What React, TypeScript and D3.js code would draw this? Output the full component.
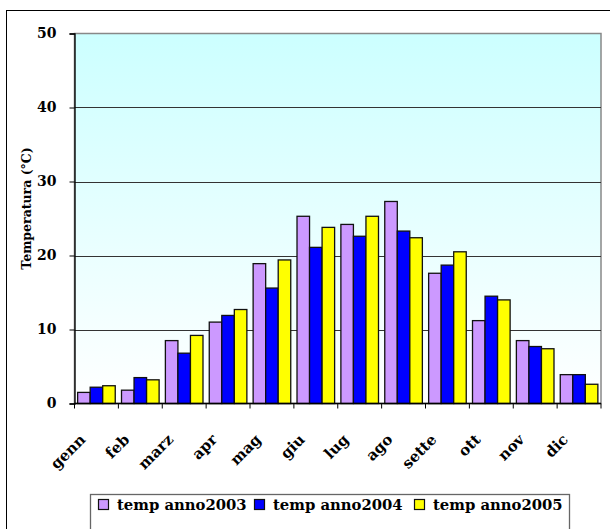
import { useEffect, useRef } from "react";
import * as d3 from "d3";

const months = ["genn", "feb", "marz", "apr", "mag", "giu", "lug", "ago", "sette", "ott", "nov", "dic"];
const series = ["temp anno2003", "temp anno2004", "temp anno2005"];
const temp2003 = [1.5, 1.8, 8.5, 11.0, 18.9, 25.3, 24.2, 27.3, 17.6, 11.2, 8.5, 3.9];
const temp2004 = [2.2, 3.5, 6.8, 11.9, 15.6, 21.1, 22.6, 23.3, 18.7, 14.5, 7.7, 3.9];
const temp2005 = [2.4, 3.2, 9.2, 12.7, 19.4, 23.8, 25.3, 22.4, 20.5, 14.0, 7.4, 2.6];
const yTicks = [0, 10, 20, 30, 40, 50];
const colors = ["#cc99ff", "#0000ff", "#ffff00"];

const W = 610;
const H = 529;
const FONT = "'DejaVu Serif', serif";

export default function App() {
  const svgRef = useRef<SVGSVGElement>(null);

  useEffect(() => {
    const svg = d3.select(svgRef.current);
    svg.selectAll("*").remove();

    const left = 74.5;
    const right = 601;
    const top = 33.5;
    const bottom = 403.5;

    const values = [temp2003, temp2004, temp2005];

    const x = d3.scaleBand<string>().domain(months).range([left, right]).paddingInner(0).paddingOuter(0);
    const inner = d3
      .scaleBand<string>()
      .domain(series)
      .range([0, x.bandwidth()])
      .paddingInner(0)
      .paddingOuter(0.25);
    const y = d3.scaleLinear().domain([0, 50]).range([bottom, top]);

    // outer frame
    svg
      .append("rect")
      .attr("x", 6.5)
      .attr("y", 10.5)
      .attr("width", 640)
      .attr("height", 560)
      .attr("fill", "white")
      .attr("stroke", "#000")
      .attr("stroke-width", 1);

    const defs = svg.append("defs");
    const grad = defs
      .append("linearGradient")
      .attr("id", "bg")
      .attr("x1", 0)
      .attr("y1", 0)
      .attr("x2", 0)
      .attr("y2", 1);
    grad.append("stop").attr("offset", "0%").attr("stop-color", "#ccffff");
    grad.append("stop").attr("offset", "100%").attr("stop-color", "#ffffff");

    svg
      .append("rect")
      .attr("x", left)
      .attr("y", top)
      .attr("width", right - left)
      .attr("height", bottom - top)
      .attr("fill", "url(#bg)")
      .attr("stroke", "#888")
      .attr("stroke-width", 1.5);

    // gridlines
    svg
      .append("g")
      .selectAll("line")
      .data(yTicks.filter((t) => t > 0 && t < 50))
      .join("line")
      .attr("x1", left)
      .attr("x2", right)
      .attr("y1", (d) => Math.round(y(d)) + 0.5)
      .attr("y2", (d) => Math.round(y(d)) + 0.5)
      .attr("stroke", "#333")
      .attr("stroke-width", 1);

    // bars
    values.forEach((vals, si) => {
      svg
        .append("g")
        .selectAll("rect")
        .data(vals)
        .join("rect")
        .attr("x", (_, i) => x(months[i])! + inner(series[si])!)
        .attr("y", (d) => y(d))
        .attr("width", inner.bandwidth())
        .attr("height", (d) => bottom - y(d))
        .attr("fill", colors[si])
        .attr("stroke", "#111")
        .attr("stroke-width", 1.3);
    });

    // y axis
    const yAxis = svg
      .append("g")
      .attr("transform", `translate(${left},0)`)
      .call(d3.axisLeft(y).tickValues(yTicks).tickSize(5).tickPadding(13).tickFormat(d3.format("d")));
    yAxis.select(".domain").attr("stroke", "#000").attr("stroke-width", 1.3);
    yAxis.selectAll(".tick line").attr("stroke", "#000");
    yAxis
      .selectAll(".tick text")
      .attr("font-family", FONT)
      .attr("font-weight", "bold")
      .attr("font-size", 14)
      .attr("fill", "#000");

    // x axis
    const xAxis = svg.append("g").attr("transform", `translate(0,${bottom})`);
    xAxis
      .append("line")
      .attr("x1", left)
      .attr("x2", right)
      .attr("stroke", "#000")
      .attr("stroke-width", 1.3);
    xAxis
      .selectAll("line.tk")
      .data(d3.range(months.length + 1))
      .join("line")
      .attr("class", "tk")
      .attr("x1", (i) => left + i * x.step())
      .attr("x2", (i) => left + i * x.step())
      .attr("y1", 0)
      .attr("y2", 5)
      .attr("stroke", "#000");
    xAxis
      .selectAll("text")
      .data(months)
      .join("text")
      .attr(
        "transform",
        (d) => `translate(${x(d)! + x.bandwidth() / 2 - 10},${37}) rotate(-45)`
      )
      .attr("text-anchor", "end")
      .attr("font-family", FONT)
      .attr("font-weight", "bold")
      .attr("font-size", 15)
      .attr("fill", "#000")
      .text((d) => d);

    // y title
    svg
      .append("text")
      .attr("transform", `translate(31,${(top + bottom) / 2 - 10}) rotate(-90)`)
      .attr("text-anchor", "middle")
      .attr("font-family", FONT)
      .attr("font-weight", "bold")
      .attr("font-size", 12.5)
      .text("Temperatura (°C)");

    // legend
    const legend = svg.append("g");
    legend
      .append("rect")
      .attr("x", 90.5)
      .attr("y", 494.5)
      .attr("width", 479)
      .attr("height", 60)
      .attr("fill", "white")
      .attr("stroke", "#666")
      .attr("stroke-width", 1.3);
    const legendX = [98, 254, 414];
    series.forEach((s, i) => {
      const g = legend.append("g").attr("transform", `translate(${legendX[i]},0)`);
      g.append("rect")
        .attr("x", 0.5)
        .attr("y", 499.5)
        .attr("width", 10)
        .attr("height", 10)
        .attr("fill", colors[i])
        .attr("stroke", "#111")
        .attr("stroke-width", 1.2);
      g.append("text")
        .attr("x", 19)
        .attr("y", 510)
        .attr("font-family", FONT)
        .attr("font-weight", "bold")
        .attr("font-size", 14.8)
        .attr("fill", "#000")
        .text(s);
    });
  }, []);

  return (
    <svg
      ref={svgRef}
      width={W}
      height={H}
      style={{ position: "absolute", left: 0, top: 0, background: "white" }}
    />
  );
}
